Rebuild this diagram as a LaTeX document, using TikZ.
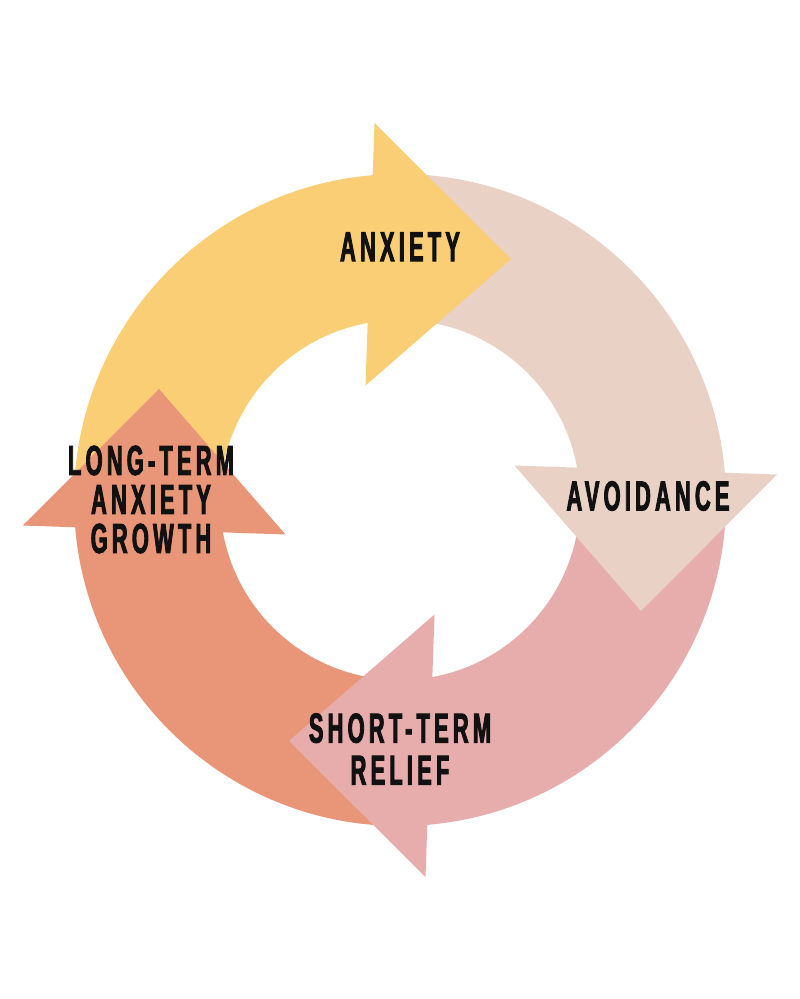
\documentclass[tikz,border=0pt]{standalone}
\usepackage{fontspec}
\newfontfamily\lblfont{Liberation Sans}[FakeStretch=0.52,LetterSpace=10,FakeBold=2]
\definecolor{cAnx}{HTML}{F9CE74}
\definecolor{cAvo}{HTML}{E9D1C5}
\definecolor{cRel}{HTML}{E6ADAC}
\definecolor{cLng}{HTML}{E89677}
\definecolor{cTxt}{HTML}{111111}
\begin{document}
\begin{tikzpicture}[x=1pt,y=1pt]
\tikzset{
  band/.pic={\fill[pic actions] (180:326) arc[start angle=180,end angle=93.5,radius=326] -- (99:180) arc[start angle=99,end angle=180,radius=180] -- cycle;},
  head/.pic={\fill[pic actions] (-25.5,377) -- (111,241) -- (-34.5,114.5) -- cycle;},
  lbl/.style={font=\lblfont\bfseries\fontsize{42}{39}\selectfont, text=cTxt, align=center, inner sep=0pt}
}
\useasboundingbox (0,0) rectangle (800,999);
\fill[white] (0,0) rectangle (800,999);
\coordinate (c) at (400,499);
% bands
\pic[fill=cAnx] at (c) {band};
\pic[fill=cAvo, rotate=-90] at (c) {band};
\pic[fill=cRel, rotate=-180] at (c) {band};
\pic[fill=cLng, rotate=-270] at (c) {band};
% heads
\pic[fill=cAnx] at (c) {head};
\pic[fill=cAvo, rotate=-90] at (c) {head};
\pic[fill=cRel, rotate=-180] at (c) {head};
\pic[fill=cLng, rotate=-270] at (c) {head};
% labels
\node[lbl] (anx) at (400,752.3) {ANXIETY};
\node[lbl] (avo) at (648,503) {AVOIDANCE};
\node[lbl] (rel) at (400,250) {SHORT-TERM\\[3pt]RELIEF};
\node[lbl] (lng) at (151,499.5) {LONG-TERM\\ANXIETY\\GROWTH};
\end{tikzpicture}
\end{document}
